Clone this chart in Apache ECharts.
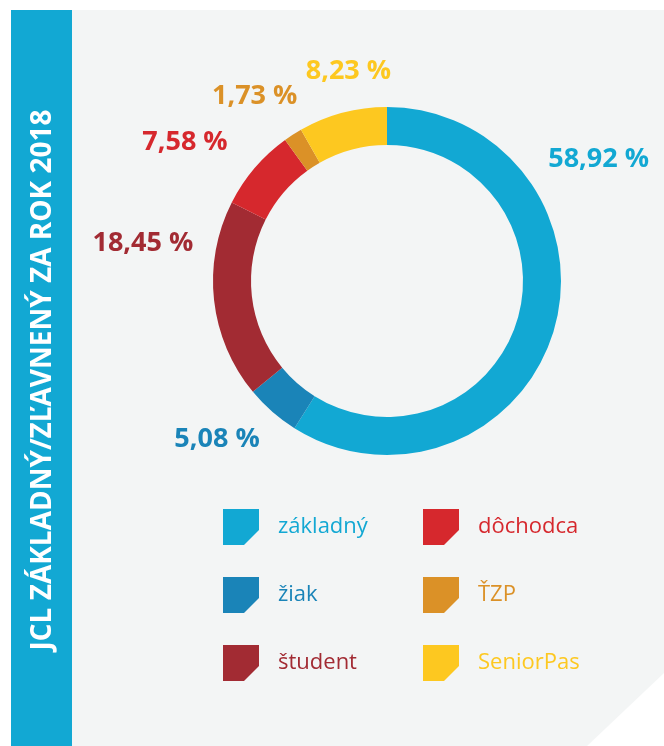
<!DOCTYPE html>
<html>
<head>
<meta charset="utf-8">
<script src="https://cdn.jsdelivr.net/npm/echarts@6/dist/echarts.min.js"></script>
<style>
  html, body { margin: 0; padding: 0; background: #fff; }
  #chart { width: 664px; height: 746px; }
</style>
</head>
<body>
<div id="chart"></div>
<script>
// data
var categories = ['základný', 'žiak', 'študent', 'dôchodca', 'ŤZP', 'SeniorPas'];
var shares = [58.92, 5.08, 18.45, 7.58, 1.73, 8.23];
var colors = ['#12a8d3', '#1a84b8', '#a22b33', '#d6282d', '#db9127', '#fdc820'];
var legendLeftCol = ['základný', 'žiak', 'študent'];
var legendRightCol = ['dôchodca', 'ŤZP', 'SeniorPas'];
var title = 'JCL ZÁKLADNÝ/ZĽAVNENÝ ZA ROK 2018';

// nudges for the outside labels (same order as categories)
var labelNudge = [[-35, -177], [9, 9], [9, -60], [-3, -9], [23, -17], [60, -17]];

var myChart = echarts.init(document.getElementById('chart'));

var pieData = categories.map(function (name, i) {
    return {
        name: name,
        value: shares[i],
        itemStyle: { color: colors[i] },
        label: { color: colors[i] }
    };
});

function legendItems(names) {
    return names.map(function (n) {
        return { name: n, textStyle: { color: colors[categories.indexOf(n)] } };
    });
}

var icon = 'path://M0,0L36,0L36,21L21,36L0,36Z';

var legendBase = {
    orient: 'vertical',
    top: 509,
    padding: 0,
    itemWidth: 36,
    itemHeight: 36,
    itemGap: 32,
    icon: icon,
    selectedMode: false,
    textStyle: {
        fontFamily: 'Open Sans',
        fontSize: 22,
        padding: [0, 0, 0, 14]
    }
};

var option = {
    backgroundColor: '#ffffff',
    animation: false,
    graphic: [
        {
            type: 'polygon',
            z: -10,
            shape: { points: [[72, 10], [664, 10], [664, 673], [587, 746], [72, 746]] },
            style: { fill: '#f3f5f5' }
        },
        {
            type: 'rect',
            z: -10,
            shape: { x: 11, y: 10, width: 61, height: 736 },
            style: { fill: '#12a8d3' }
        },
        {
            type: 'text',
            z: 5,
            x: 43,
            y: 380,
            rotation: Math.PI / 2,
            style: {
                text: title,
                fill: '#ffffff',
                font: 'bold 28px "Open Sans"',
                textAlign: 'center',
                textVerticalAlign: 'middle'
            }
        }
    ],
    legend: [
        Object.assign({}, legendBase, { left: 223, data: legendItems(legendLeftCol) }),
        Object.assign({}, legendBase, { left: 423, data: legendItems(legendRightCol) })
    ],
    series: [{
        type: 'pie',
        center: [387, 281],
        radius: [136, 174],
        startAngle: 90,
        clockwise: true,
        avoidLabelOverlap: false,
        silent: true,
        label: {
            show: true,
            position: 'outside',
            fontFamily: 'Open Sans',
            fontWeight: 'bold',
            fontSize: 27,
            formatter: function (p) {
                return p.value.toFixed(2).replace('.', ',') + ' %';
            }
        },
        labelLine: { show: false, length: 25, length2: 0 },
        labelLayout: function (p) {
            var n = labelNudge[p.dataIndex];
            return { dx: n[0], dy: n[1] };
        },
        data: pieData
    }]
};

myChart.setOption(option);
</script>
</body>
</html>
